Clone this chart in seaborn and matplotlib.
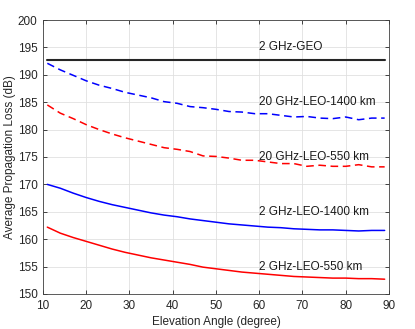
import numpy as np
import pandas as pd
import matplotlib
matplotlib.use("Agg")
import matplotlib.pyplot as plt
import seaborn as sns

elev = [11, 14, 17, 20, 23, 26, 29, 32, 35, 38, 41, 44, 47, 50, 53, 56, 59, 62, 65, 68, 71, 74, 77, 80, 83, 86, 89]
geo_2g = [192.7] * len(elev)
leo1400_20g = [192.1, 190.9, 189.9, 188.9, 188.1, 187.5, 186.8, 186.3, 185.8, 185.1, 184.8, 184.2, 184.0, 183.7,
               183.3, 183.2, 182.9, 182.9, 182.6, 182.3, 182.4, 182.1, 182.0, 182.3, 181.8, 182.1, 182.1]
leo550_20g = [184.5, 183.0, 182.0, 180.9, 180.0, 179.2, 178.5, 177.9, 177.3, 176.7, 176.4, 176.0, 175.2, 175.1,
              174.8, 174.4, 174.4, 174.1, 173.8, 173.8, 173.3, 173.5, 173.3, 173.3, 173.6, 173.2, 173.2]
leo1400_2g = [170.0, 169.3, 168.4, 167.6, 166.9, 166.3, 165.8, 165.3, 164.8, 164.4, 164.1, 163.7, 163.4, 163.1,
              162.8, 162.6, 162.4, 162.2, 162.1, 161.9, 161.8, 161.7, 161.7, 161.6, 161.5, 161.6, 161.6]
leo550_2g = [162.2, 161.1, 160.3, 159.6, 158.9, 158.2, 157.6, 157.1, 156.6, 156.2, 155.8, 155.4, 154.9, 154.6,
             154.3, 154.0, 153.8, 153.6, 153.4, 153.2, 153.1, 153.0, 152.9, 152.9, 152.8, 152.8, 152.7]

series_names = ["2 GHz-GEO", "20 GHz-LEO-1400 km", "20 GHz-LEO-550 km", "2 GHz-LEO-1400 km", "2 GHz-LEO-550 km"]
series_vals = [geo_2g, leo1400_20g, leo550_20g, leo1400_2g, leo550_2g]
label_y = [195, 185, 175, 165, 155]
label_x = 60

rows = []
for name, vals in zip(series_names, series_vals):
    for x, v in zip(elev, vals):
        rows.append({"elev": x, "loss": v, "series": name})
df = pd.DataFrame(rows)

sns.set_style("ticks")
plt.rcParams["font.family"] = ["Liberation Sans", "DejaVu Sans"]

fig = plt.figure(figsize=(4.15, 3.29), dpi=100)
ax = fig.add_axes([0.1036, 0.1064, 0.8337, 0.8328])

palette = {"2 GHz-GEO": "#262626", "20 GHz-LEO-1400 km": "#0000ff", "20 GHz-LEO-550 km": "#ff0000",
           "2 GHz-LEO-1400 km": "#0000ff", "2 GHz-LEO-550 km": "#ff0000"}
dashes = {"2 GHz-GEO": "", "20 GHz-LEO-1400 km": (5, 3), "20 GHz-LEO-550 km": (5, 3),
          "2 GHz-LEO-1400 km": "", "2 GHz-LEO-550 km": ""}
sns.lineplot(data=df, x="elev", y="loss", hue="series", style="series", palette=palette, dashes=dashes,
             size="series", sizes={"2 GHz-GEO": 1.5, "20 GHz-LEO-1400 km": 1.1, "20 GHz-LEO-550 km": 1.1,
                                   "2 GHz-LEO-1400 km": 1.1, "2 GHz-LEO-550 km": 1.1},
             legend=False, ax=ax)

for name, ly in zip(series_names, label_y):
    ax.text(label_x, ly, name, fontsize=8.5, color="#1a1a1a", va="center", ha="left")

ax.set_xlim(10, 90)
ax.set_ylim(150, 200)
ax.set_xticks(range(10, 91, 10))
ax.set_yticks(range(150, 201, 5))
ax.grid(True, color="#e0e0e0", linewidth=0.6)
ax.set_axisbelow(True)
for s in ax.spines.values():
    s.set_visible(True)
    s.set_color("#404040")
    s.set_linewidth(0.6)
ax.tick_params(direction="in", top=True, right=True, length=3, width=0.6, labelsize=8.5, colors="#262626",
               pad=4)
ax.set_xlabel("Elevation Angle (degree)", fontsize=8.5, color="#262626", labelpad=3)
ax.set_ylabel("Average Propagation Loss (dB)", fontsize=8.5, color="#262626", labelpad=1)

fig.savefig("out.png", dpi=100)
